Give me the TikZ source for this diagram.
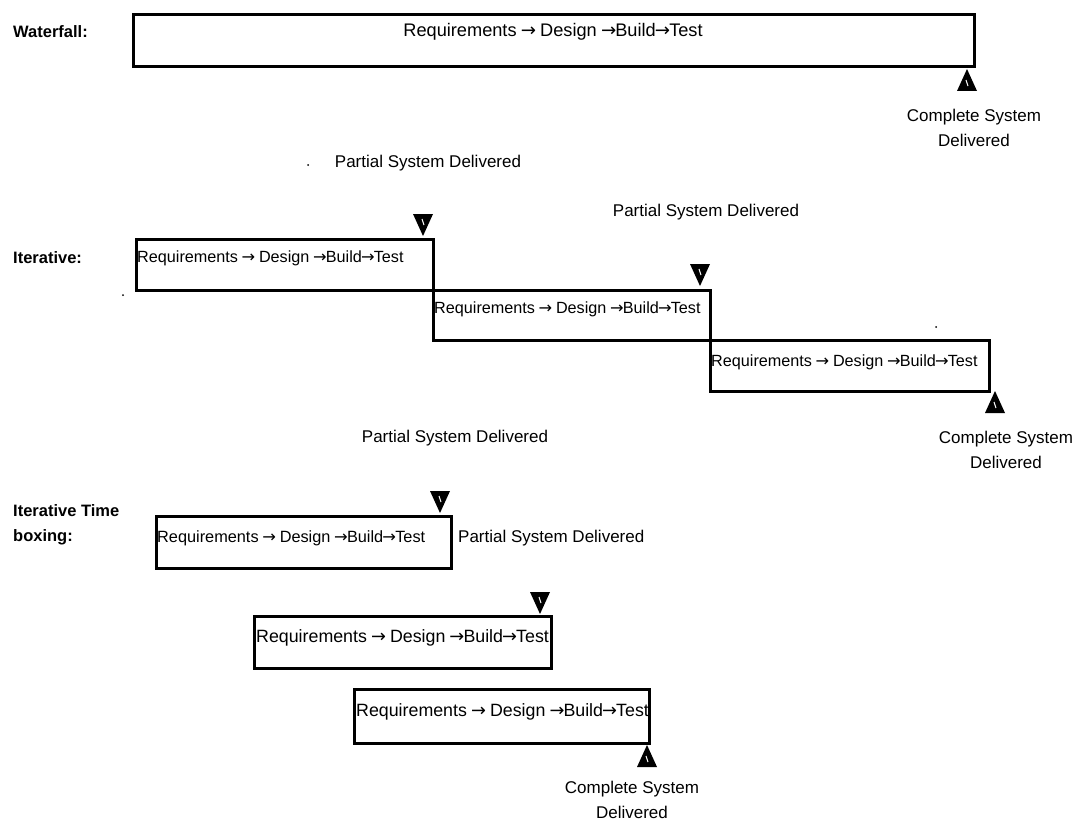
\documentclass[tikz,border=0pt]{standalone}
\usepackage{fontspec}
\setmainfont{Liberation Sans}
\newfontfamily\arfont{DejaVu Sans}
\begin{document}
\begin{tikzpicture}[x=1bp,y=-1bp,
  phase/.style={draw=black, line width=2.6bp, anchor=north west, inner sep=0pt},
  lbl/.style={font=\fontsize{16.5bp}{25bp}\selectfont\bfseries, anchor=west, inner sep=0pt, align=left},
  note/.style={font=\fontsize{17bp}{25bp}\selectfont, inner sep=0pt, align=center},
  ptxt/.style={anchor=west, inner sep=0pt},
  upmark/.pic={\fill (-10,22) -- (10,22) -- (0,0) -- cycle;
               \draw[white, line width=1bp] (-1,11) -- (1,17);},
  downmark/.pic={\fill (-10,0) -- (10,0) -- (0,22) -- cycle;
               \draw[white, line width=1bp] (-1,5) -- (1,11);}
]
\useasboundingbox (0,0) rectangle (1079,821);
\def\ar{{\arfont\kern-0.05em→\kern-0.05em}}
\def\rdb{Requirements \ar{} Design \ar{}Build\ar{}Test}

% ---------- Waterfall ----------
\node[lbl] (wl) at (13,32) {Waterfall:};
\node[phase, minimum width=841bp, minimum height=52bp] (w1) at (132,13) {};
\node[ptxt, anchor=center, font=\fontsize{18.2bp}{20bp}\selectfont] (w1t) at (553,32) {\rdb};
\pic at (967,69) {upmark};
\node[note] (wc) at (974,128) {Complete System\\Delivered};

% ---------- Iterative ----------
\node[lbl] (il) at (13,258) {Iterative:};
\node[phase, minimum width=297bp, minimum height=51bp] (i1) at (135,238) {};
\node[phase, minimum width=277bp, minimum height=50bp] (i2) at (432,289) {};
\node[phase, minimum width=279bp, minimum height=51bp] (i3) at (709,339) {};
\node[ptxt, font=\fontsize{16.2bp}{18bp}\selectfont] (i1t) at (137,258) {\rdb};
\node[ptxt, font=\fontsize{16.2bp}{18bp}\selectfont] (i2t) at (434,309) {\rdb};
\node[ptxt, font=\fontsize{16.2bp}{18bp}\selectfont] (i3t) at (711,362) {\rdb};
\pic at (423,214) {downmark};
\pic at (700,264) {downmark};
\pic at (995,391) {upmark};
\node[note] (ip1) at (428,163) {Partial System Delivered};
\node[note] (ip2) at (706,212) {Partial System Delivered};
\node[note] (ic) at (1006,450) {Complete System\\Delivered};
\fill (308,165) circle (1bp);
\fill (123,295) circle (1bp);
\fill (936,327) circle (1bp);

% ---------- Iterative Time boxing ----------
\node[lbl] (tl) at (13,525) {Iterative Time\\boxing:};
\node[note] (tp1) at (455,438) {Partial System Delivered};
\node[phase, minimum width=295bp, minimum height=52bp] (t1) at (155,515) {};
\node[phase, minimum width=297bp, minimum height=52bp] (t2) at (253,615) {};
\node[phase, minimum width=295bp, minimum height=54bp] (t3) at (353,688) {};
\node[ptxt, font=\fontsize{16.3bp}{18bp}\selectfont] (t1t) at (157,538) {\rdb};
\node[ptxt, font=\fontsize{17.8bp}{18bp}\selectfont] (t2t) at (256,638) {\rdb};
\node[ptxt, font=\fontsize{17.8bp}{18bp}\selectfont] (t3t) at (356,712) {\rdb};
\node[note, anchor=west] (tp2) at (458,538) {Partial System Delivered};
\pic at (440,491) {downmark};
\pic at (540,592) {downmark};
\pic at (647,745) {upmark};
\node[note] (tc) at (632,800) {Complete System\\Delivered};
\end{tikzpicture}
\end{document}
